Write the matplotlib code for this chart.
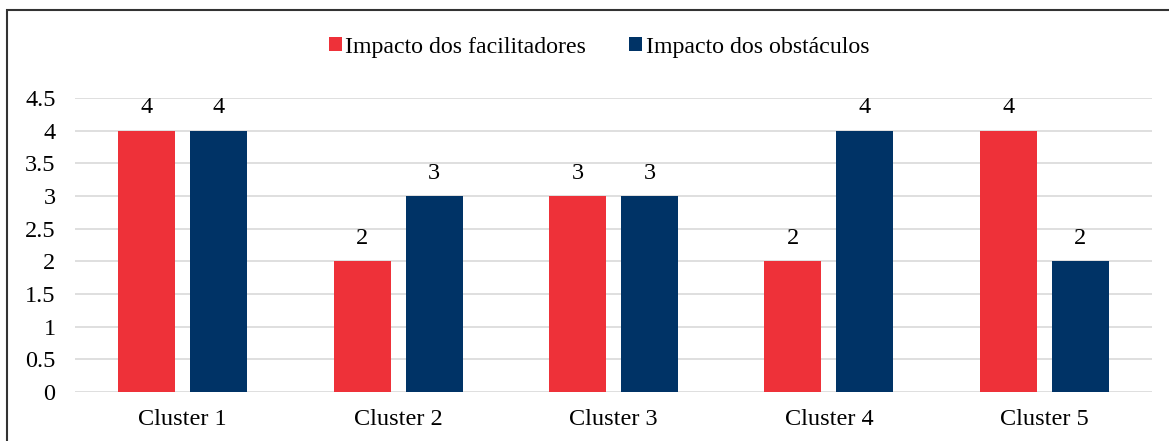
import numpy as np
import matplotlib.pyplot as plt
from matplotlib.patches import Rectangle

clusters = ["Cluster 1", "Cluster 2", "Cluster 3", "Cluster 4", "Cluster 5"]
facilitadores = [4, 2, 3, 2, 4]
obstaculos = [4, 3, 3, 4, 2]
yticks = [0, 0.5, 1, 1.5, 2, 2.5, 3, 3.5, 4, 4.5]

plt.rcParams['font.family'] = ['Liberation Serif', 'DejaVu Serif']

W, H = 1169, 441
fig = plt.figure(figsize=(W / 100, H / 100), dpi=100)
ax = fig.add_axes([75 / W, 49 / H, (1152 - 75) / W, (343 - 49) / H])

x = np.arange(len(clusters))
bw = 0.265
off = 0.167
b1 = ax.bar(x - off, facilitadores, bw, color='#EE3139', label='Impacto dos facilitadores', zorder=3)
b2 = ax.bar(x + off, obstaculos, bw, color='#003366', label='Impacto dos obstáculos', zorder=3)

for bars in (b1, b2):
    ax.bar_label(bars, labels=[f"{v:g}" for v in bars.datavalues], padding=9, fontsize=17.5)

ax.set_xlim(-0.5, len(clusters) - 0.5)
ax.set_ylim(0, 4.5)
ax.set_yticks(yticks)
ax.set_yticklabels([f"{t:g}" for t in yticks])
ax.set_xticks(x)
ax.set_xticklabels(clusters)
ax.tick_params(axis='both', length=0, labelsize=17.5)
ax.tick_params(axis='y', pad=14)
ax.tick_params(axis='x', pad=12.5)
ax.grid(axis='y', color='#d9d9d9', linewidth=1.2, zorder=0)
for s in ax.spines.values():
    s.set_visible(False)

fig.legend(loc='center', bbox_to_anchor=(599 / W, 1 - 47 / H), ncol=2, frameon=False,
           fontsize=17.2, handlelength=0.55, handleheight=0.55, handletextpad=0.15,
           columnspacing=1.8)

fig.patches.append(Rectangle((7 / W, -0.1), 1.2, 1 - 10 / H + 0.1, transform=fig.transFigure,
                             fill=False, edgecolor='#333333', linewidth=1.5))

fig.savefig('out.png', dpi=100)
